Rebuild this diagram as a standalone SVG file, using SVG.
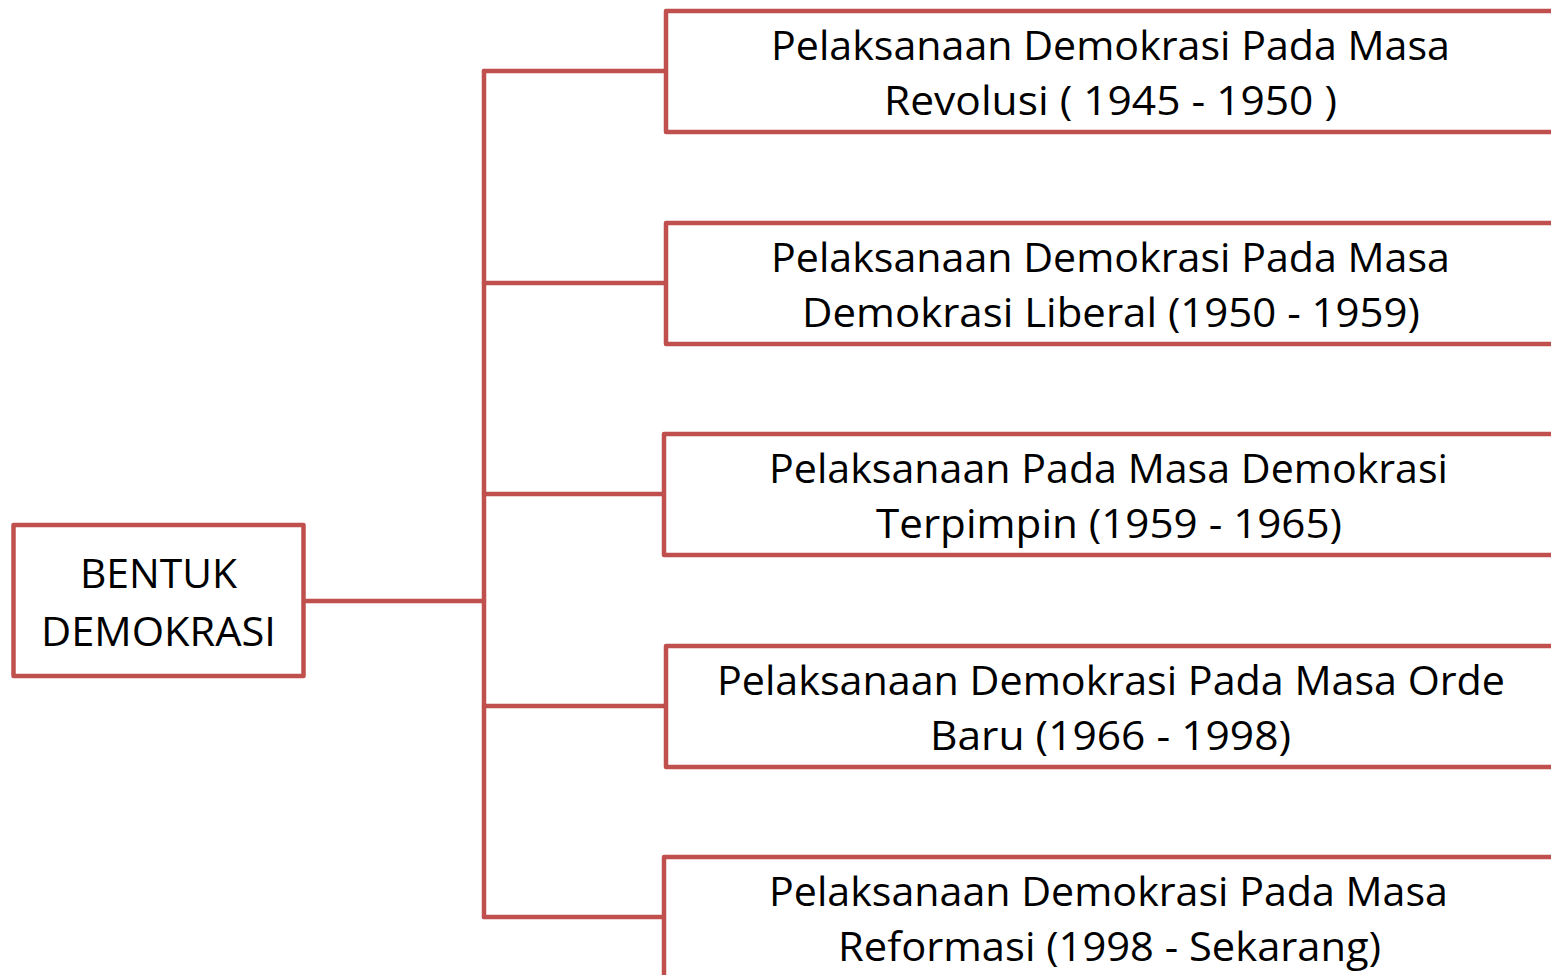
<svg xmlns="http://www.w3.org/2000/svg" width="1551" height="975" viewBox="0 0 1551 975">
  <style>
    .box { fill: #FFFFFF; stroke: #C0504D; stroke-width: 4.5; stroke-linejoin: round; }
    .link { fill: none; stroke: #C0504D; stroke-width: 4.5; stroke-linejoin: round; stroke-linecap: round; }
    .label { font-family: "Open Sans", "Liberation Sans", sans-serif; font-size: 41px; fill: #000000; text-anchor: middle; }
  </style>
  <rect width="1551" height="975" fill="#FFFFFF"/>

  <!-- connectors: root to bus, bus, bus to each period -->
  <g id="connectors">
    <path class="link" d="M304 601 H484"/>
    <path class="link" d="M484 71 V917"/>
    <path class="link" d="M484 71 H666"/>
    <path class="link" d="M484 283 H666"/>
    <path class="link" d="M484 494 H664"/>
    <path class="link" d="M484 706 H666"/>
    <path class="link" d="M484 917 H664"/>
  </g>

  <g id="root">
    <rect class="box" x="13.5" y="525" width="290" height="151"/>
    <text class="label" x="158.5" y="588" textLength="157" lengthAdjust="spacingAndGlyphs">BENTUK</text>
    <text class="label" x="158.5" y="646" textLength="235" lengthAdjust="spacingAndGlyphs">DEMOKRASI</text>
  </g>

  <g id="revolusi">
    <rect class="box" x="666" y="11" width="900" height="121"/>
    <text class="label" x="1110.5" y="60" textLength="679" lengthAdjust="spacingAndGlyphs">Pelaksanaan Demokrasi Pada Masa</text>
    <text class="label" x="1110.5" y="115" textLength="453" lengthAdjust="spacingAndGlyphs">Revolusi ( 1945 - 1950 )</text>
  </g>

  <g id="liberal">
    <rect class="box" x="666" y="223" width="900" height="121"/>
    <text class="label" x="1110.5" y="272" textLength="679" lengthAdjust="spacingAndGlyphs">Pelaksanaan Demokrasi Pada Masa</text>
    <text class="label" x="1111" y="327" textLength="618" lengthAdjust="spacingAndGlyphs">Demokrasi Liberal (1950 - 1959)</text>
  </g>

  <g id="terpimpin">
    <rect class="box" x="664" y="434" width="900" height="121"/>
    <text class="label" x="1108.5" y="483" textLength="679" lengthAdjust="spacingAndGlyphs">Pelaksanaan Pada Masa Demokrasi</text>
    <text class="label" x="1109" y="538" textLength="466" lengthAdjust="spacingAndGlyphs">Terpimpin (1959 - 1965)</text>
  </g>

  <g id="orde-baru">
    <rect class="box" x="666" y="646" width="900" height="121"/>
    <text class="label" x="1111" y="695" textLength="788" lengthAdjust="spacingAndGlyphs">Pelaksanaan Demokrasi Pada Masa Orde</text>
    <text class="label" x="1110.5" y="750" textLength="361" lengthAdjust="spacingAndGlyphs">Baru (1966 - 1998)</text>
  </g>

  <g id="reformasi">
    <rect class="box" x="664" y="857" width="900" height="140"/>
    <text class="label" x="1108.5" y="906" textLength="679" lengthAdjust="spacingAndGlyphs">Pelaksanaan Demokrasi Pada Masa</text>
    <text class="label" x="1109.5" y="961" textLength="543" lengthAdjust="spacingAndGlyphs">Reformasi (1998 - Sekarang)</text>
  </g>
</svg>
